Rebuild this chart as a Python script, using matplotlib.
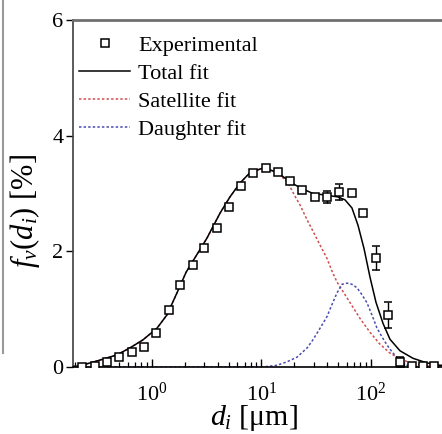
import matplotlib
matplotlib.use("Agg")
import matplotlib.pyplot as plt
from matplotlib.lines import Line2D
import numpy as np

plt.rcParams['font.family'] = ['Liberation Serif', 'DejaVu Serif']
plt.rcParams['mathtext.fontset'] = 'custom'
plt.rcParams['mathtext.rm'] = 'Liberation Serif'
plt.rcParams['mathtext.it'] = 'Liberation Serif:italic'

# experimental points
d_exp = [0.23, 0.30, 0.39, 0.50, 0.66, 0.85, 1.09, 1.43, 1.80, 2.37, 2.99, 3.92,
         5.05, 6.50, 8.36, 11.0, 14.2, 18.2, 23.4, 30.8, 39.6, 51.0, 67.0, 84.5,
         111, 143, 184, 237, 298, 376]
f_exp = [0.00, 0.02, 0.08, 0.17, 0.26, 0.35, 0.59, 0.99, 1.42, 1.77, 2.06, 2.40,
         2.77, 3.13, 3.36, 3.44, 3.37, 3.22, 3.06, 2.94, 2.94, 3.03, 3.01, 2.66,
         1.89, 0.90, 0.09, 0.02, 0.02, 0.02]
f_err = [0.02, 0.02, 0.04, 0.04, 0.04, 0.04, 0.04, 0.04, 0.04, 0.04, 0.04, 0.04,
         0.04, 0.03, 0.03, 0.02, 0.02, 0.04, 0.03, 0.06, 0.11, 0.14, 0.05, 0.05,
         0.21, 0.22, 0.09, 0.02, 0.02, 0.02]

# total fit
d_tot = [0.19, 0.22, 0.335, 0.479, 0.629, 0.828, 1.11, 1.37, 1.69, 2.05, 2.47, 3.18,
         4.18, 5.15, 6.36, 7.85, 10.3, 13.9, 18.2, 22.5, 29.5, 39.6, 50.0, 57.9,
         67.0, 76.1, 86.3, 98.0, 111, 129, 149, 184, 242, 325, 427, 450]
f_tot = [0.01, 0.02, 0.12, 0.21, 0.33, 0.47, 0.67, 0.90, 1.28, 1.64, 1.89, 2.23,
         2.66, 2.94, 3.18, 3.36, 3.44, 3.37, 3.20, 3.10, 3.00, 2.97, 2.94, 2.89,
         2.75, 2.45, 2.05, 1.55, 1.12, 0.75, 0.48, 0.28, 0.15, 0.07, 0.03, 0.03]

# satellite fit
d_sat = [0.19, 0.22, 0.335, 0.479, 0.629, 0.828, 1.11, 1.37, 1.69, 2.05, 2.47, 3.18,
         4.18, 5.15, 6.36, 7.85, 10.3, 13.9, 17.5, 20.0, 22.5, 26.0, 29.5, 34.0,
         39.6, 44.0, 48.9, 57.9, 67.0, 80.0, 98.0, 120, 149, 184, 230, 290, 360, 450]
f_sat = [0.01, 0.02, 0.12, 0.21, 0.33, 0.47, 0.67, 0.90, 1.28, 1.64, 1.89, 2.23,
         2.66, 2.94, 3.18, 3.36, 3.44, 3.37, 3.18, 2.97, 2.80, 2.55, 2.35, 2.12,
         1.88, 1.66, 1.47, 1.25, 1.06, 0.83, 0.60, 0.40, 0.24, 0.14, 0.07, 0.03, 0.01, 0.0]

# daughter fit
d_dau = [0.19, 10.3, 13.9, 17.1, 21.1, 26.1, 29.5, 34.0, 39.6, 44.0, 48.9, 54.3,
         60.3, 67.0, 74.5, 82.0, 91.9, 102, 113, 126, 140, 156, 173, 192, 213, 245, 280, 450]
f_dau = [0.0, 0.0, 0.03, 0.09, 0.17, 0.33, 0.47, 0.66, 0.87, 1.08, 1.28, 1.43,
         1.45, 1.43, 1.37, 1.26, 1.11, 0.90, 0.68, 0.52, 0.38, 0.26, 0.16, 0.08, 0.03, 0.01, 0.0, 0.0]

fig = plt.figure(figsize=(4.42, 4.34), dpi=100)
ax = fig.add_axes([73/442, 1 - 367/434, 1 - 73/442, 347/434])

l_tot, = ax.plot(d_tot, f_tot, color='black', lw=1.1, zorder=3)
l_sat, = ax.plot(d_sat, f_sat, color='#d05050', lw=1.1, ls=(0, (1.6, 1.4)), zorder=2)
l_dau, = ax.plot(d_dau, f_dau, color='#4a4ab0', lw=1.1, ls=(0, (1.6, 1.4)), zorder=2)
ax.errorbar(d_exp, f_exp, yerr=f_err, fmt='s', ms=6, mfc='white', mec='black',
            mew=1.1, ecolor='black', elinewidth=1.0, capsize=3, capthick=1.0, zorder=4)

ax.set_xscale('log')
ax.set_xlim(0.19, 445)
ax.set_ylim(0, 6)
ax.set_yticks([0, 2, 4, 6])

ax.spines['right'].set_visible(False)
ax.spines['top'].set_color('#707070')
ax.spines['top'].set_linewidth(2.0)
ax.spines['left'].set_color('#404040')
ax.spines['left'].set_linewidth(1.2)
ax.spines['bottom'].set_linewidth(1.2)

ax.tick_params(axis='y', direction='out', length=5, width=1.0, labelsize=16, pad=2)
ax.tick_params(axis='x', which='major', direction='in', length=6, width=1.0, labelsize=16, pad=11)
ax.tick_params(axis='x', which='minor', direction='in', length=3.5, width=0.9)

ax.set_xlabel(r'$d_i$ [$\mathrm{\mu}$m]', fontsize=21.5)
ax.set_ylabel(r'$f_v(d_i)$ [%]', fontsize=22)
ax.yaxis.set_label_coords(-0.084, 0.45)
ax.xaxis.set_label_coords(0.49, -0.105)

exp_proxy = Line2D([], [], ls='none', marker='s', ms=6, mfc='white', mec='black', mew=1.1)
handles = [exp_proxy, l_tot, l_sat, l_dau]
labels = ['Experimental', 'Total fit', 'Satellite fit', 'Daughter fit']
ax.legend(handles, labels, loc='upper left', bbox_to_anchor=(-0.025, 1.0),
          frameon=False, fontsize=16, handlelength=2.3, handletextpad=0.35,
          labelspacing=0.33, borderaxespad=0.3)

# thin grey edge line at the left border of the picture
fig.add_artist(Line2D([3/442, 3/442], [1.0, 1 - 353/434], color='#999999', lw=1.5))

fig.savefig('out.png', dpi=100)
